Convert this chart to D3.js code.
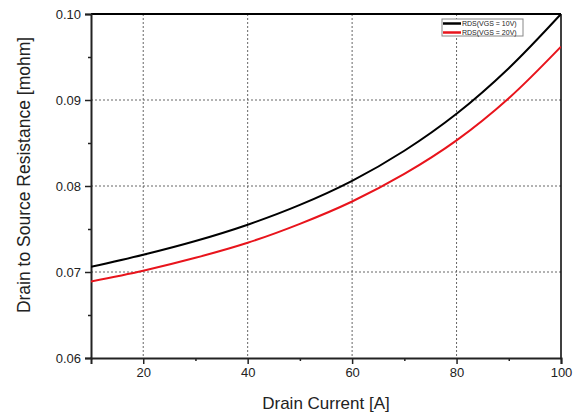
<!DOCTYPE html>
<html>
<head>
<meta charset="utf-8">
<script src="https://cdn.jsdelivr.net/npm/d3@7"></script>
<style>
  body { margin: 0; background: #fff; }
  text { font-family: "Liberation Sans", Arial, sans-serif; fill: #222; }
</style>
</head>
<body>
<svg width="580" height="419"></svg>
<script>
var current = [10, 20, 30, 40, 50, 60, 70, 80, 90, 100];
var rds10 = [0.0706, 0.0720, 0.0736, 0.0755, 0.0778, 0.0806, 0.0841, 0.0884, 0.0937, 0.1000];
var rds20 = [0.0689, 0.07015, 0.07165, 0.0734, 0.0756, 0.0782, 0.0814, 0.0853, 0.0902, 0.0962];
var xTicks = [20, 40, 60, 80, 100];
var yTicks = [0.06, 0.07, 0.08, 0.09, 0.10];
var seriesNames = ["RDS(VGS = 10V)", "RDS(VGS = 20V)"];
var seriesColors = ["#000", "#e8141c"];

var svg = d3.select("svg"),
    pLeft = 91, pRight = 561, pTop = 14, pBottom = 358;

var x = d3.scaleLinear().domain([10, 100]).range([pLeft, pRight]);
var y = d3.scaleLinear().domain([0.06, 0.10]).range([pBottom, pTop]);

// grid
svg.append("g")
   .selectAll("line")
   .data(xTicks.slice(0, -1))
   .enter().append("line")
   .attr("x1", d => x(d)).attr("x2", d => x(d))
   .attr("y1", pTop).attr("y2", pBottom)
   .attr("stroke", "#666").attr("stroke-width", 1).attr("stroke-dasharray", "2,2");
svg.append("g")
   .selectAll("line")
   .data(yTicks.slice(1, -1))
   .enter().append("line")
   .attr("x1", pLeft).attr("x2", pRight)
   .attr("y1", d => y(d)).attr("y2", d => y(d))
   .attr("stroke", "#666").attr("stroke-width", 1).attr("stroke-dasharray", "2,2");

// frame top / right
svg.append("line").attr("x1", pLeft).attr("x2", pRight).attr("y1", pTop).attr("y2", pTop)
   .attr("stroke", "#000").attr("stroke-width", 2);
svg.append("line").attr("x1", pRight).attr("x2", pRight).attr("y1", pTop).attr("y2", pBottom)
   .attr("stroke", "#000").attr("stroke-width", 1.5);

// minor ticks
var xMinor = d3.range(30, 100, 20);
var yMinor = [0.065, 0.075, 0.085, 0.095];

svg.append("g")
   .attr("transform", "translate(0," + pBottom + ")")
   .call(d3.axisBottom(x).tickValues(xTicks).tickSize(6).tickPadding(4).tickFormat(d3.format("d")));
svg.append("g")
   .attr("transform", "translate(0," + pBottom + ")")
   .call(d3.axisBottom(x).tickValues(xMinor).tickSize(3).tickFormat(""))
   .call(g => g.select(".domain").remove());

svg.append("g")
   .attr("transform", "translate(" + pLeft + ",0)")
   .call(d3.axisLeft(y).tickValues(yTicks).tickSize(6).tickPadding(4).tickFormat(d3.format(".2f")));
svg.append("g")
   .attr("transform", "translate(" + pLeft + ",0)")
   .call(d3.axisLeft(y).tickValues(yMinor).tickSize(3).tickFormat(""))
   .call(g => g.select(".domain").remove());

svg.selectAll(".domain").attr("stroke", "#222").attr("stroke-width", 2);
svg.selectAll(".tick line").attr("stroke", "#222").attr("stroke-width", 1.5);
svg.selectAll(".tick text").attr("font-size", "13px").attr("fill", "#222")
   .attr("font-family", "Liberation Sans, Arial, sans-serif");

// axis titles
svg.append("text")
   .attr("x", 326)
   .attr("y", 409)
   .attr("text-anchor", "middle")
   .attr("font-size", "17px")
   .text("Drain Current [A]");
svg.append("text")
   .attr("transform", "translate(30,175) rotate(-90)")
   .attr("text-anchor", "middle")
   .attr("font-size", "17.5px")
   .text("Drain to Source Resistance [mohm]");

// curves
var line = d3.line()
   .x((d, i) => x(current[i]))
   .y(d => y(d))
   .curve(d3.curveCatmullRom);

svg.append("defs").append("clipPath").attr("id", "clip")
   .append("rect").attr("x", pLeft).attr("y", pTop - 1).attr("width", pRight - pLeft).attr("height", pBottom - pTop + 1);

[rds10, rds20].forEach(function(s, i) {
  svg.append("path")
     .datum(s)
     .attr("clip-path", "url(#clip)")
     .attr("fill", "none")
     .attr("stroke", seriesColors[i])
     .attr("stroke-width", 2)
     .attr("d", line);
});

// legend
var lg = svg.append("g").attr("transform", "translate(442,19)");
lg.append("rect").attr("width", 81).attr("height", 17)
  .attr("fill", "#fff").attr("stroke", "#888").attr("stroke-width", 1);
seriesNames.forEach(function(n, i) {
  lg.append("line").attr("x1", 1).attr("x2", 19)
    .attr("y1", 4.5 + i * 9).attr("y2", 4.5 + i * 9)
    .attr("stroke", seriesColors[i]).attr("stroke-width", 2.5);
  lg.append("text").attr("x", 20).attr("y", 7 + i * 9)
    .attr("font-size", "7px").attr("fill", "#333").text(n);
});
</script>
</body>
</html>
